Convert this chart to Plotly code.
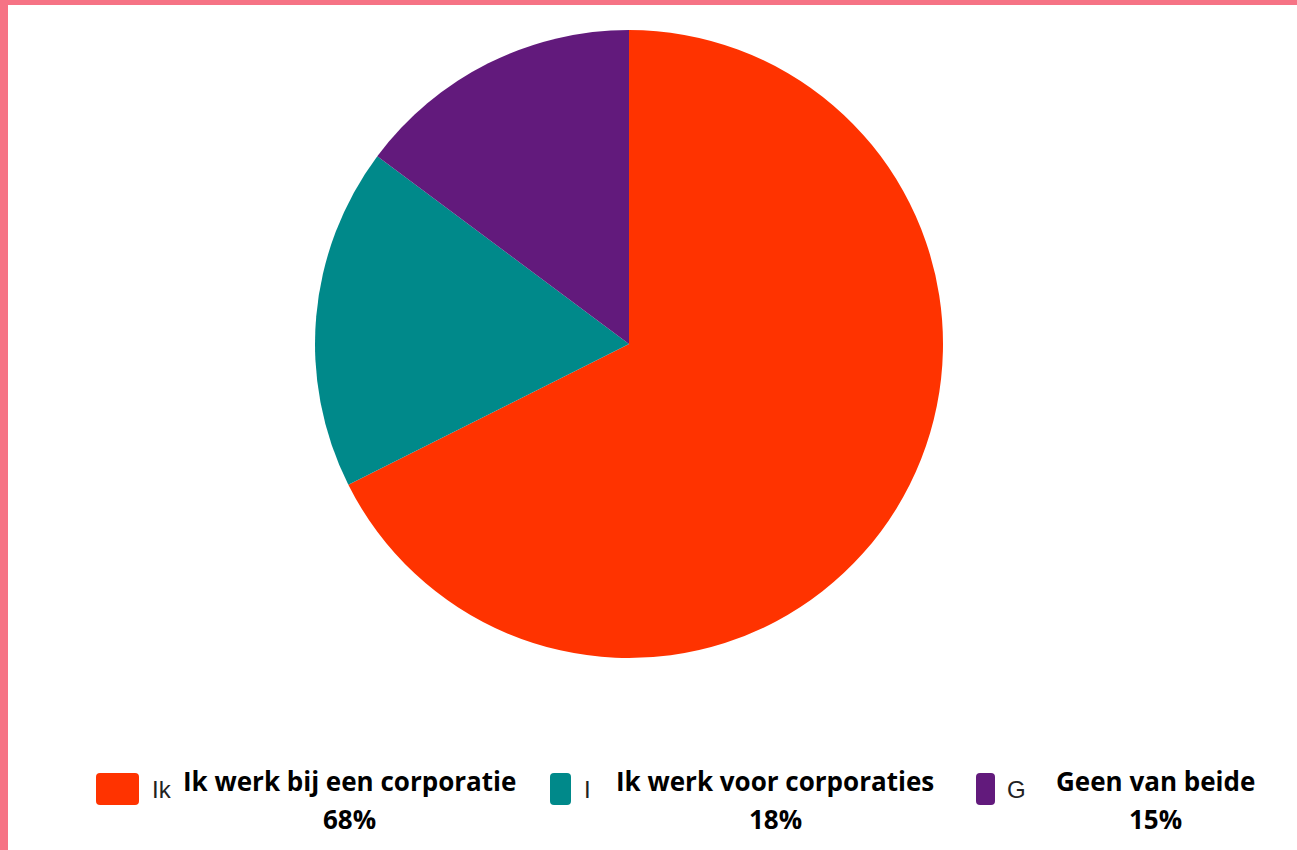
import plotly.graph_objects as go

labels = ["Ik werk bij een corporatie", "Ik werk voor corporaties", "Geen van beide"]
values = [67.6, 17.6, 14.8]
colors = ["#FF3300", "#00898A", "#621A7C"]
legend_stub = ["Ik", "I", "G"]

W, H = 1297, 850

fig = go.Figure()
fig.add_trace(go.Pie(
    labels=labels, values=values,
    marker=dict(colors=colors, line=dict(color="#ffffff", width=0)),
    sort=False, direction="clockwise", rotation=0,
    textinfo="none", hoverinfo="label+percent", showlegend=False,
    domain=dict(x=[315 / W, 943 / W], y=[1 - 658 / H, 1 - 30 / H]),
))

# pixel-like helper axes for the legend row
fig.update_xaxes(range=[0, W], visible=False, fixedrange=True)
fig.update_yaxes(range=[H, 0], visible=False, fixedrange=True)


def rounded(x0, y0, x1, y1, r=4):
    return (f"M{x0 + r},{y0} L{x1 - r},{y0} Q{x1},{y0} {x1},{y0 + r} "
            f"L{x1},{y1 - r} Q{x1},{y1} {x1 - r},{y1} L{x0 + r},{y1} "
            f"Q{x0},{y1} {x0},{y1 - r} L{x0},{y0 + r} Q{x0},{y0} {x0 + r},{y0} Z")


swatch_x = [(96, 139), (550, 571), (976, 995)]
stub_x = [150, 582, 1005]
label_cx = [349, 775, 1155]

shapes = [
    dict(type="rect", xref="paper", yref="paper", x0=0, x1=8 / W, y0=0, y1=1,
         fillcolor="#F67385", line_width=0, layer="above"),
    dict(type="rect", xref="paper", yref="paper", x0=0, x1=1, y0=1 - 5 / H, y1=1,
         fillcolor="#F67385", line_width=0, layer="above"),
]
annotations = []
total = sum(values)
for i, lab in enumerate(labels):
    x0, x1 = swatch_x[i]
    shapes.append(dict(type="path", xref="x", yref="y", path=rounded(x0, 773, x1, 805),
                       fillcolor=colors[i], line_width=0))
    annotations.append(dict(x=stub_x[i], y=789, xref="x", yref="y", text=legend_stub[i],
                            showarrow=False, xanchor="left", yanchor="middle",
                            font=dict(family="Arial", size=24, color="#222222")))
for i, lab in enumerate(labels):
    annotations.append(dict(x=label_cx[i], y=781, xref="x", yref="y", text=f"<b>{lab}</b>",
                            showarrow=False, xanchor="center", yanchor="middle",
                            bgcolor="#ffffff", borderpad=4,
                            font=dict(family="Open Sans", size=26, color="#000000")))
    annotations.append(dict(x=label_cx[i], y=819, xref="x", yref="y",
                            text=f"<b>{round(values[i] / total * 100)}%</b>",
                            showarrow=False, xanchor="center", yanchor="middle",
                            font=dict(family="Open Sans", size=26, color="#000000")))

fig.update_layout(
    width=W, height=H, margin=dict(l=0, r=0, t=0, b=0),
    paper_bgcolor="#ffffff", plot_bgcolor="#ffffff",
    shapes=shapes, annotations=annotations,
)
fig.write_html("out.html", config={"displayModeBar": False},
               post_script="document.body.style.margin='0';")
